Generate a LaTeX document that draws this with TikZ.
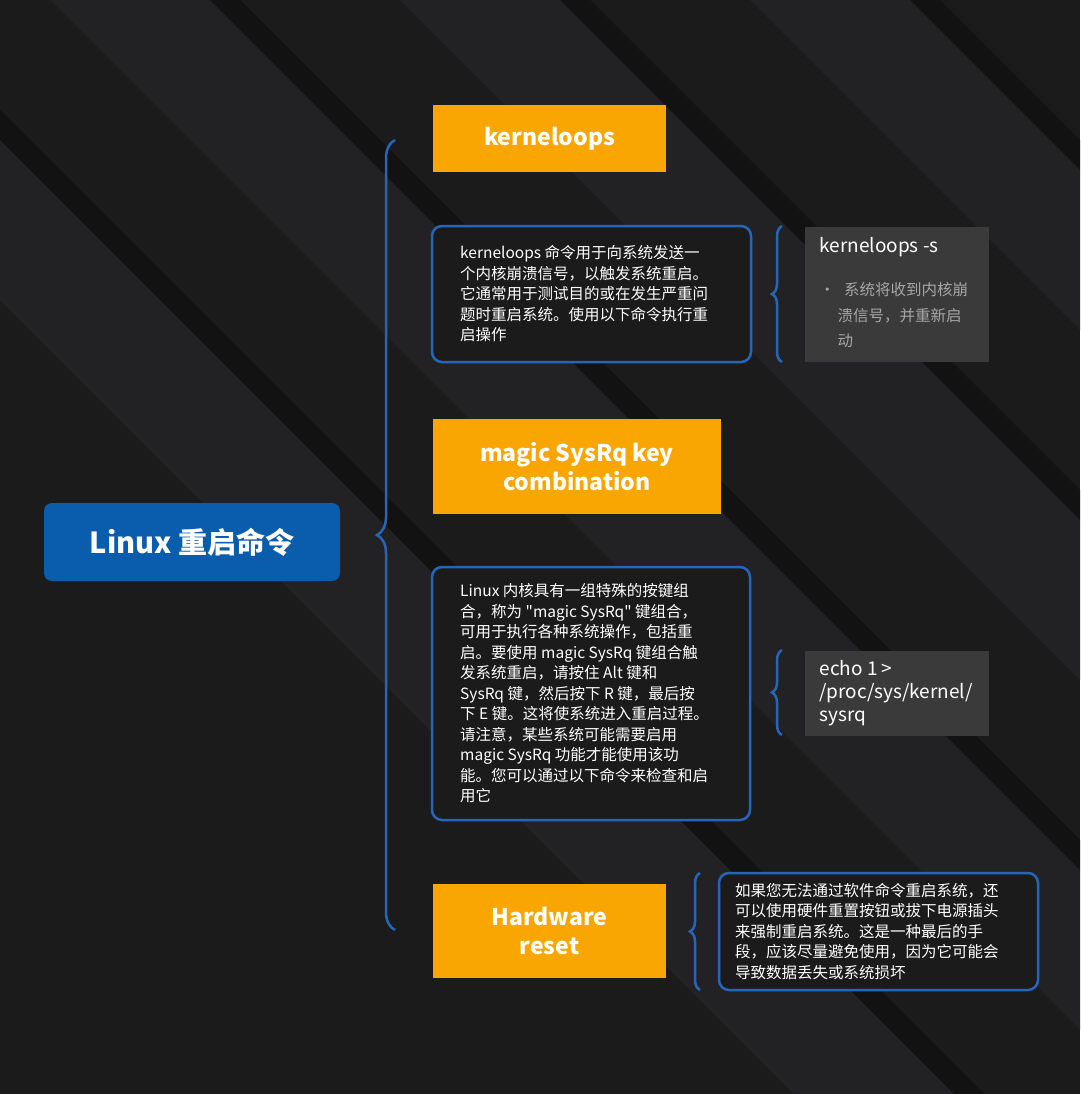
\documentclass[tikz,border=0pt]{standalone}
\usepackage{fontspec}
\setmainfont{Noto Sans CJK SC}
\newfontfamily\plainq{Noto Sans CJK SC}[Ligatures=ResetAll]
\usetikzlibrary{decorations.pathreplacing}
\definecolor{bg}{HTML}{1B1B1C}
\definecolor{band}{HTML}{222224}
\definecolor{bandd}{HTML}{121213}
\definecolor{org}{HTML}{F9A602}
\definecolor{bl}{HTML}{2566B8}
\definecolor{rootb}{HTML}{0A5CAD}
\definecolor{gry}{HTML}{3A3A3B}
\begin{document}
\begin{tikzpicture}[x=1pt,y=-1pt,
 orange/.style={fill=org,inner sep=0pt,align=center,text=white,font=\fontsize{23}{29}\selectfont\bfseries},
 desc/.style={draw=bl,line width=2.5pt,rounded corners=10pt,fill=bg,inner sep=0pt},
 dtext/.style={text=white,align=left,font=\fontsize{15.5}{20.5}\selectfont,anchor=west,inner sep=0pt},
 grey/.style={fill=gry,inner sep=0pt},
 br/.style={draw=bl,line width=2.5pt,decorate,decoration={brace,amplitude=#1}}]
\useasboundingbox (0,0) rectangle (1080,1094);
\fill[bg] (0,0) rectangle (1080,1094);
\begin{scope}
\clip (0,0) rectangle (1080,1094);
\foreach \s in {-300,50,400,750,1100}{
 \fill[band] (\s,0) -- (\s+160,0) -- (\s+160+1094,1094) -- (\s+1094,1094) -- cycle;
 \fill[bandd] (\s+160,0) -- (\s+190,0) -- (\s+190+1094,1094) -- (\s+160+1094,1094) -- cycle;
}
\end{scope}
% root
\node[fill=rootb,rounded corners=8pt,minimum width=296pt,minimum height=78pt,text=white,font=\fontsize{29}{34}\selectfont\bfseries] (root) at (192,542) {Linux 重启命令};
% main brace
\draw[br=18pt] (395,930) -- (395,140) coordinate (bt);
% orange headings
\node[orange,minimum width=233pt,minimum height=67pt] (k) at (549.5,138.5) {kerneloops};
\node[orange,minimum width=288pt,minimum height=95pt] (m) at (577,466.5) {magic SysRq key\\combination};
\node[orange,minimum width=233pt,minimum height=94pt] (h) at (549.5,931) {Hardware\\reset};
% descriptions
\node[desc,minimum width=319pt,minimum height=136pt] (d1) at (591.5,294) {};
\node[dtext] at (460,294) {kerneloops 命令用于向系统发送一\\个内核崩溃信号，以触发系统重启。\\它通常用于测试目的或在发生严重问\\题时重启系统。使用以下命令执行重\\启操作};
\node[desc,minimum width=318pt,minimum height=253pt] (d2) at (591,693.5) {};
\node[dtext] at (460,693.5) {Linux 内核具有一组特殊的按键组\\合，称为 {\plainq"}magic SysRq{\plainq"} 键组合，\\可用于执行各种系统操作，包括重\\启。要使用 magic SysRq 键组合触\\发系统重启，请按住 Alt 键和\\SysRq 键，然后按下 R 键，最后按\\下 E 键。这将使系统进入重启过程。\\请注意，某些系统可能需要启用\\magic SysRq 功能才能使用该功\\能。您可以通过以下命令来检查和启\\用它};
\node[desc,minimum width=319pt,minimum height=117pt] (d3) at (878.5,931.5) {};
\node[dtext] at (735,931.5) {如果您无法通过软件命令重启系统，还\\可以使用硬件重置按钮或拔下电源插头\\来强制重启系统。这是一种最后的手\\段，应该尽量避免使用，因为它可能会\\导致数据丢失或系统损坏};
% small braces
\draw[br=10pt] (782,362) -- (782,226);
\draw[br=10pt] (782,735) -- (782,650);
\draw[br=10pt] (700,990) -- (700,873);
% grey boxes
\node[grey,minimum width=184pt,minimum height=135pt] (g1) at (897,294.5) {};
\node[anchor=north west,text=white,font=\fontsize{19}{24}\selectfont] (g1t) at (816,234) {kerneloops -s};
\node[anchor=north west,text=gray!70,font=\fontsize{15.5}{25.5}\selectfont,align=left] (g1b) at (816,279) {•\hspace{9pt}系统将收到内核崩\\\hspace{18pt}溃信号，并重新启\\\hspace{18pt}动};
\node[grey,minimum width=184pt,minimum height=85pt] (g2) at (897,693.5) {};
\node[anchor=west,text=white,font=\fontsize{19}{23}\selectfont,align=left] (g2t) at (816,693.5) {echo 1 >\\/proc/sys/kernel/\\sysrq};
\end{tikzpicture}
\end{document}
